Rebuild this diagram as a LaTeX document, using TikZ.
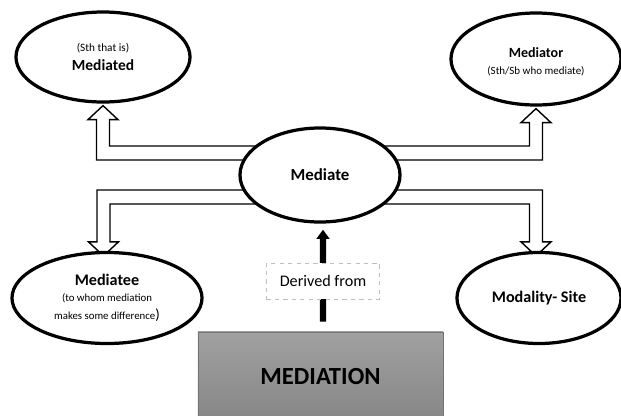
\documentclass[tikz,border=0pt]{standalone}
\usepackage{fontspec}
\setmainfont{Carlito}
\usetikzlibrary{shapes.geometric,arrows.meta,calc,backgrounds}

\definecolor{boxtop}{RGB}{160,160,160}
\definecolor{boxbottom}{RGB}{134,134,134}

\tikzset{
  bubble/.style={ellipse, draw, line width=2.3pt, fill=white, inner sep=0pt, align=center},
  hollow/.style={draw, fill=white, line width=1pt, line join=miter},
  subtext/.style={font=\fontsize{7.5}{9}\selectfont}
}

\begin{document}
\begin{tikzpicture}[x=0.025cm, y=-0.025cm]
    \useasboundingbox (0,0) rectangle (621,416);

    % the five terms
    \node[bubble, minimum width=4.35cm, minimum height=2.25cm] (mediated) at (103,57)
        {{\fontsize{8}{9}\selectfont (Sth that is)}\\[1pt]{\fontsize{11}{13}\selectfont\bfseries Mediated}};
    \node[bubble, minimum width=4.25cm, minimum height=2.3cm] (mediator) at (536,59)
        {\rule{0pt}{11.5pt}{\fontsize{10}{12}\selectfont\bfseries Mediator}\\[0pt]
         {\fontsize{7.8}{9}\selectfont (Sth/Sb who mediate)}};
    \node[bubble, minimum width=4cm, minimum height=2.35cm] (mediate) at (320,175)
        {\fontsize{12}{14}\selectfont\bfseries Mediate};
    \node[bubble, minimum width=4.75cm, minimum height=2.275cm] (mediatee) at (107,298)
        {{\fontsize{11.5}{14}\selectfont\bfseries Mediatee}\\[-1pt]
         {\fontsize{7.7}{12}\selectfont (to whom mediation}\\[1pt]
         {\fontsize{7.7}{12}\selectfont makes some difference{\fontsize{10.5}{12}\selectfont )}}};
    \node[bubble, minimum width=4.1cm, minimum height=2.275cm] (modality) at (539,298)
        {\fontsize{11.5}{14}\selectfont\bfseries Modality- Site};

    \node[draw=black!55, line width=0.6pt, top color=boxtop, bottom color=boxbottom,
          minimum width=6.125cm, minimum height=2.25cm, inner sep=0pt] (mediation) at (320.5,377)
        {\fontsize{17.5}{20}\selectfont\bfseries MEDIATION};

    % tips of the hollow arrows
    \coordinate (ul) at ($(mediated.south)+(0,2)$);
    \coordinate (ur) at ($(mediator.south)+(0,2)$);
    \coordinate (ll) at ($(mediatee.north)+(-3.5,5)$);
    \coordinate (lr) at ($(modality.north)+(-3,5)$);

    \begin{scope}[on background layer]
        \draw[hollow] ($(mediate.center)+(0,-29)$) -| ($(ul)+(6.5,14)$) -- ++(8.5,0) -- (ul)
            -- ++(-15,14) -- ++(8.5,0) |- ($(mediate.center)+(0,-15)$) -- cycle;
        \draw[hollow] ($(mediate.center)+(0,-29)$) -| ($(ur)+(-6.5,14)$) -- ++(-8.5,0) -- (ur)
            -- ++(15,14) -- ++(-8.5,0) |- ($(mediate.center)+(0,-15)$) -- cycle;
        \draw[hollow] ($(mediate.center)+(0,29)$) -| ($(ll)+(6.5,-14)$) -- ++(8.5,0) -- (ll)
            -- ++(-15,-14) -- ++(8.5,0) |- ($(mediate.center)+(0,15)$) -- cycle;
        \draw[hollow] ($(mediate.center)+(0,29)$) -| ($(lr)+(-6.5,-14)$) -- ++(-8.5,0) -- (lr)
            -- ++(15,-14) -- ++(-8.5,0) |- ($(mediate.center)+(0,15)$) -- cycle;
    \end{scope}

    % derived from
    \draw[line width=4.3pt, -{Triangle[length=6.5pt, width=9pt]}, shorten <=7pt, shorten >=4.3pt]
        ($(mediation.north)+(2.5,0)$) -- ($(mediate.south)+(3,0)$);
    \node[draw=black!25, dashed, fill=white, minimum width=2.825cm, minimum height=0.9cm,
          font=\fontsize{11.5}{14}\selectfont] (derived) at (323,281) {Derived from};
\end{tikzpicture}
\end{document}
